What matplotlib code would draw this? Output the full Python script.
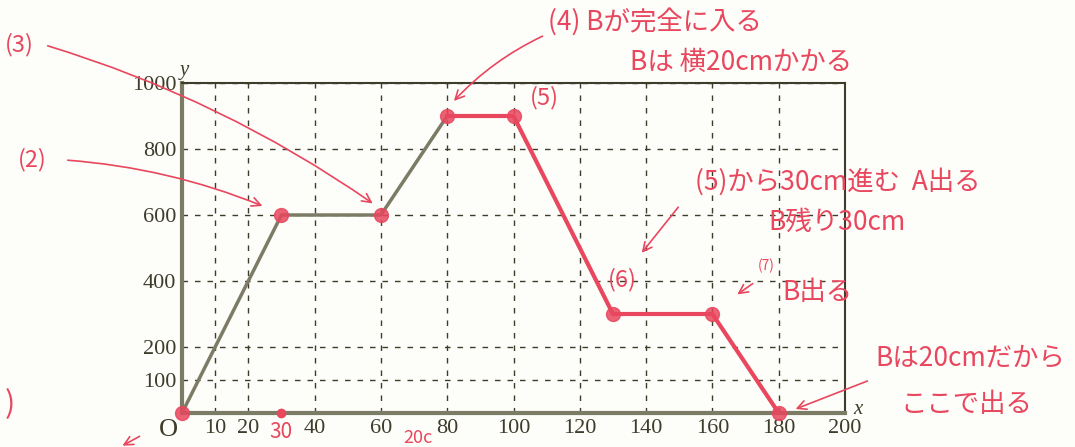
import matplotlib
matplotlib.use("Agg")
import matplotlib.pyplot as plt
from matplotlib.ticker import MultipleLocator

plt.rcParams['font.family'] = ['Noto Sans CJK JP', 'DejaVu Sans']

# data
x_vals = [0, 30, 60, 80, 100, 130, 160, 180]
y_vals = [0, 600, 600, 900, 900, 300, 300, 0]
x_ticks = [10, 20, 40, 60, 80, 100, 120, 140, 160, 180, 200]
y_ticks = [100, 200, 400, 600, 800, 1000]

W, H = 1075, 447
fig = plt.figure(figsize=(W / 100, H / 100), dpi=100)
fig.patch.set_facecolor('#fdfdf9')

def px(x, y):
    return (x / W, 1 - y / H)

ax = fig.add_axes([182 / W, 34 / H, 663 / W, 330 / H])
ax.set_facecolor('#fdfdf9')
ax.set_xlim(0, 200)
ax.set_ylim(0, 1000)

ink = '#3e3d2c'
red = '#e8475e'
gray = '#7c7b66'

ax.xaxis.set_major_locator(MultipleLocator(10))
ax.yaxis.set_major_locator(MultipleLocator(100))
ax.grid(True, linestyle=(0, (4, 5)), color=ink, lw=1.0)
ax.tick_params(length=0, pad=4, labelsize=16, colors=ink)
ax.set_xticks(x_ticks)
ax.set_xticklabels([str(t) for t in x_ticks], family='Liberation Serif')
ax.set_yticks(y_ticks)
ax.set_yticklabels([str(t) for t in y_ticks], family='Liberation Serif')
for s in ['top', 'right']:
    ax.spines[s].set_color(ink)
    ax.spines[s].set_linewidth(1.5)
for s in ['left', 'bottom']:
    ax.spines[s].set_color(gray)
    ax.spines[s].set_linewidth(3)

# gray printed part
ax.plot(x_vals[:4], y_vals[:4], color=gray, lw=2.5, zorder=3)
# red traced part
ax.plot(x_vals[3:], y_vals[3:], color=red, lw=3, zorder=4)
ax.plot(x_vals, y_vals, 'o', color=red, ms=10, zorder=5, alpha=0.85, clip_on=False)
ax.plot([x_vals[1]], [0], 'o', color=red, ms=6, zorder=5, clip_on=False)

# axis letters
fig.text(*px(180, 70), 'y', family='Liberation Serif', style='italic', fontsize=15, color=ink, ha='left', va='center')
fig.text(*px(858, 410), 'x', family='Liberation Serif', style='italic', fontsize=15, color=ink, ha='center', va='center')
fig.text(*px(168, 430), 'O', family='Liberation Serif', fontsize=19, color=ink, ha='center', va='center')
fig.text(*px(281, 432), '30', fontsize=15, color=red, ha='center', va='center')
fig.text(*px(418, 438), '20c', fontsize=13, color=red, ha='center', va='center')

tk = dict(color=red, fontsize=19, ha='left', va='center')
fig.text(*px(5, 45), '(3)', color=red, fontsize=17, ha='left', va='center')
fig.text(*px(18, 160), '(2)', color=red, fontsize=17, ha='left', va='center')
fig.text(*px(548, 22), '(4) Bが完全に入る', **tk)
fig.text(*px(630, 62), 'Bは 横20cmかかる', **tk)
fig.text(*px(530, 98), '(5)', color=red, fontsize=17, ha='left', va='center')
fig.text(*px(695, 182), '(5)から30cm進む  A出る', **tk)
fig.text(*px(768, 222), 'B残り30cm', **tk)
fig.text(*px(608, 280), '(6)', color=red, fontsize=17, ha='left', va='center')
fig.text(*px(758, 266), '(7)', color=red, fontsize=10, ha='left', va='center')
fig.text(*px(782, 292), 'B出る', **tk)
fig.text(*px(875, 358), 'Bは20cmだから', **tk)
fig.text(*px(900, 405), 'ここで出る', **tk)
fig.text(*px(5, 405), ')', color=red, fontsize=22, ha='left', va='center')

ap = dict(arrowstyle='->', color=red, lw=1.2, mutation_scale=16)
def arrow(p_from, p_to, rad=0.0):
    ax.annotate('', xy=px(*p_to), xycoords='figure fraction',
                xytext=px(*p_from), textcoords='figure fraction',
                arrowprops=dict(connectionstyle=f'arc3,rad={rad}', **ap))

arrow((45, 45), (375, 205), -0.08)
arrow((65, 160), (265, 207), -0.08)
arrow((545, 35), (452, 103), 0.1)
arrow((680, 205), (640, 255), 0.0)
arrow((755, 282), (735, 296), 0.0)
arrow((870, 380), (793, 410), 0.0)
arrow((142, 435), (120, 447), 0.0)

fig.savefig('out.png', dpi=100, facecolor=fig.get_facecolor())
